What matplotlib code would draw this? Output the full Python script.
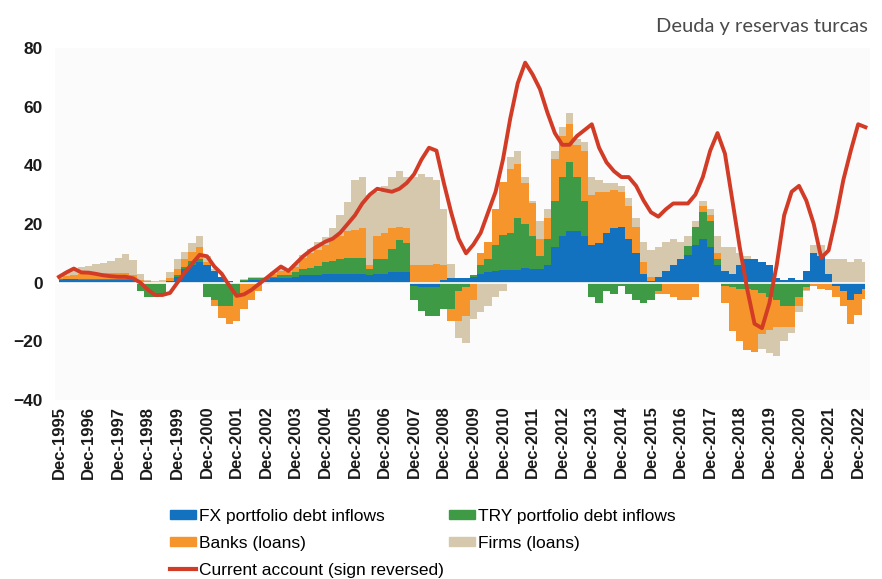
import matplotlib
matplotlib.use("Agg")
import matplotlib.pyplot as plt
import matplotlib.patches as mpatches
from matplotlib.lines import Line2D
import numpy as np
import pandas as pd

# quarterly observations, Dec-1995 .. Mar-2023 (bn USD, 12m rolling)
quarters = pd.date_range("1995-12-01", periods=110, freq="3MS") + pd.Timedelta(days=14)

fx = [1,
      1.2, 1.2, 1, 1,   1, 1, 1, 1,   1, 0.8, 0.3, 0,   0, 0, 0.5, 2,
      4.5, 6, 7, 6,   4, 2, 0.5, 0,   0.5, 1, 1, 1,   1.5, 1.5, 1.7, 2,
      2.5, 2.5, 2.7, 3,   3, 3, 3, 3,   3, 2.5, 3, 3,   3.5, 3.5, 3.5, -1,
      -1.5, -1.5, -1.5, 1,   1.5, 1.5, 1.5, 2,   3, 3.5, 4, 4.4,   4.4, 4.4, 5, 4.5,
      4.5, 6, 12, 16,   17.5, 17.5, 16, 13,   13.5, 17, 18.5, 19,   15, 10, 3, 0.5,
      2, 4, 6, 8,   9.5, 13, 15, 12,   6, 4, 3, 6,   8, 8, 7, 6,
      1.5, 1, 1.5, 1,   4, 10, 9, 3,   -1, -3, -6, -4,
      -2]

try_debt = [0.2,
            0.2, 0.2, 0.3, 0.3,   0.3, 0.3, 0.3, 0.3,   0.3, 0.3, -3, -5,   -5, -4, 0.2, 0.5,
            1, 1.5, 1, -5,   -6, -8, -8, -4,   0.3, 0.5, 0.5, 0.5,   0.5, 1, 1, 1.5,
            2, 2.5, 3, 4,   4.5, 5, 5.5, 5.5,   5.5, 2, 5, 5,   8, 11, 10, -5,
            -8, -10, -10, -9,   -9, -3, -1.5, 0.5,   3, 4.5, 9, 12,   12.5, 17.5, 15, 11.5,
            4.5, 9, 16, 20,   23.5, 18.5, 12, -5,   -7, -3, -4, -1,   -4, -6, -7, -6,
            -3, 0, 0, 0,   3, 6, 9, 9,   2, -1, -1.5, -2,   -2, -2.5, -3.5, -5,
            -6, -8, -8, -5,   -1.5, 0, 0, 0,   0, 0, 0, 0,
            0]

banks = [0.5,
         1, 1.2, 1.5, 1.5,   1.5, 2, 2, 2,   2, 1.5, 0.5, 0.5,   0.3, 0.3, 1, 2,
         2.5, 3, 4, 1,   -2, -4, -6, -9,   -9, -6, -3, -0.5,   1, 1.5, 1, 2,
         4, 5, 5.5, 6,   7.5, 8, 9, 9.5,   10, 1.5, 8, 9,   7, 4.5, 5, 6,
         6, 6, 6.5, 5,   -4, -10, -10, -6,   4, 6, 12, 18,   22, 18.5, 14, 11,
         6, 7, 14, 14,   13, 11, 17, 17,   17.5, 14, 13, 12,   11, 9, 4, 1.5,
         -1, -4, -5, -6,   -6, -5, 2, 2,   2, -6, -15, -18,   -21, -21, -14, -11,
         -9, -7, -7, -3,   -1, -1, -2, -2.5,   -4, -5, -8, -7,
         -3.5]

firms = [0.5,
         1, 1.5, 2.5, 3,   3.5, 3.5, 4, 5,   6.5, 5, 2, 0.5,   0.3, 0.5, 2, 3.5,
         2.5, 3, 4, 2,   0.5, 0, 0, 0,   0.3, 0.5, 0.5, 0.5,   0.5, 0.5, 0.5, 1,
         1, 1.5, 2.5, 2.5,   3.5, 7, 10, 17,   17.5, 24, 15, 16,   17.5, 19, 17.5, 30,
         31, 30, 28.5, 19,   5, -6, -9, -6.5,   -10, -8, -5, -3,   4, 4.5, 2, 1,
         6, 3, 3, 3,   4, 2, 3, 6,   4, 3, 2.5, 2,   3, 3, 7, 9,
         10, 10, 9, 6,   3.5, 2, 2, 2,   6, 8, 9, 4,   1, 0, -5, -8,
         -10, -5, -2, -2,   -0.5, 3, 4, 5,   8, 8, 7, 8,
         7]

current_account = [2,
                   3.5, 4.8, 3.5, 3.4,   3, 2.5, 2.2, 2,   2, 1.5, 0, -2.4,   -4.2, -4.2, -3.5, 0,
                   3.5, 6.5, 9.5, 9,   5.5, 3, -1, -4.5,   -4, -2.5, -0.5, 1.5,   3.5, 5.5, 4, 6.5,
                   9, 11, 12.5, 14,   15, 17, 20, 23,   27, 30, 32, 31.5,   31, 32, 34, 37,
                   42, 46, 45, 34,   24, 15, 10, 13,   17, 24, 31, 42,   56, 68, 75, 71,
                   66, 58, 51, 47,   47, 50, 52, 54,   46, 41, 38, 36,   36, 33, 28, 24,
                   22.5, 25, 27, 27,   27, 30, 36, 45,   51, 44, 28, 12,   -2, -14, -15.5, -7,
                   6, 23, 31, 33,   28, 20, 8.5, 11,   22, 35, 45, 54,
                   53]

labels = ["FX portfolio debt inflows", "TRY portfolio debt inflows",
          "Banks (loans)", "Firms (loans)", "Current account (sign reversed)"]
colors = ["#1272c0", "#3f9a46", "#f5952b", "#d6c8ad"]
red = "#d23c27"

fig = plt.figure(figsize=(8.82, 5.79), dpi=100)
fig.patch.set_facecolor("white")
ax = fig.add_axes([55 / 882, 1 - 400 / 579, 815 / 882, 352 / 579])
ax.set_facecolor("#fbfbfb")

pos = np.zeros(len(quarters))
neg = np.zeros(len(quarters))
for s, c in zip([fx, try_debt, banks, firms], colors):
    v = np.array(s, dtype=float)
    p = np.clip(v, 0, None)
    n = np.clip(v, None, 0)
    ax.fill_between(quarters, pos, pos + p, step="mid", color=c, lw=0)
    ax.fill_between(quarters, neg, neg + n, step="mid", color=c, lw=0)
    pos += p
    neg += n

ax.axhline(0, color="white", lw=1.2)
ax.plot(quarters, current_account, color=red, lw=2.8, solid_joinstyle="round")

ax.set_ylim(-40, 80)
ax.set_yticks(range(-40, 81, 20))
ax.set_xlim(pd.Timestamp("1995-10-27"), pd.Timestamp("2023-05-10"))
ticks = pd.date_range("1995-12-01", "2022-12-01", freq="12MS") + pd.Timedelta(days=14)
ax.set_xticks(ticks)
ax.set_xticklabels([d.strftime("Dec-%Y") for d in ticks], rotation=90,
                   fontsize=12, family="Liberation Sans", fontweight="bold", color="#1a1a1a")
for t in ax.get_yticklabels():
    t.set_fontsize(12.5)
    t.set_fontweight("bold")
    t.set_family("Liberation Sans")
    t.set_color("#1a1a1a")
ax.tick_params(axis="y", length=0, pad=9)
ax.tick_params(axis="x", length=0, pad=4)
for sp in ax.spines.values():
    sp.set_visible(False)

fig.text(0.984, 0.955, "Deuda y reservas turcas", ha="right", va="center",
         fontsize=14.5, color="#4a4a4a", family="Lato")

handles = [mpatches.Patch(color=colors[0]), mpatches.Patch(color=colors[2]),
           Line2D([], [], color=red, lw=3), mpatches.Patch(color=colors[1]),
           mpatches.Patch(color=colors[3])]
order = [labels[0], labels[2], labels[4], labels[1], labels[3]]
fig.legend(handles, order, loc="upper left", bbox_to_anchor=(163 / 882, 1 - 502 / 579),
           ncol=2, frameon=False, handlelength=1.5, handleheight=0.45,
           handletextpad=0.2, columnspacing=0.25, labelspacing=0.68,
           borderaxespad=0.2, borderpad=0.2,
           prop={"family": ["Liberation Sans Narrow", "Liberation Sans"], "size": 12.5})

fig.savefig("out.png", dpi=100, facecolor="white")
